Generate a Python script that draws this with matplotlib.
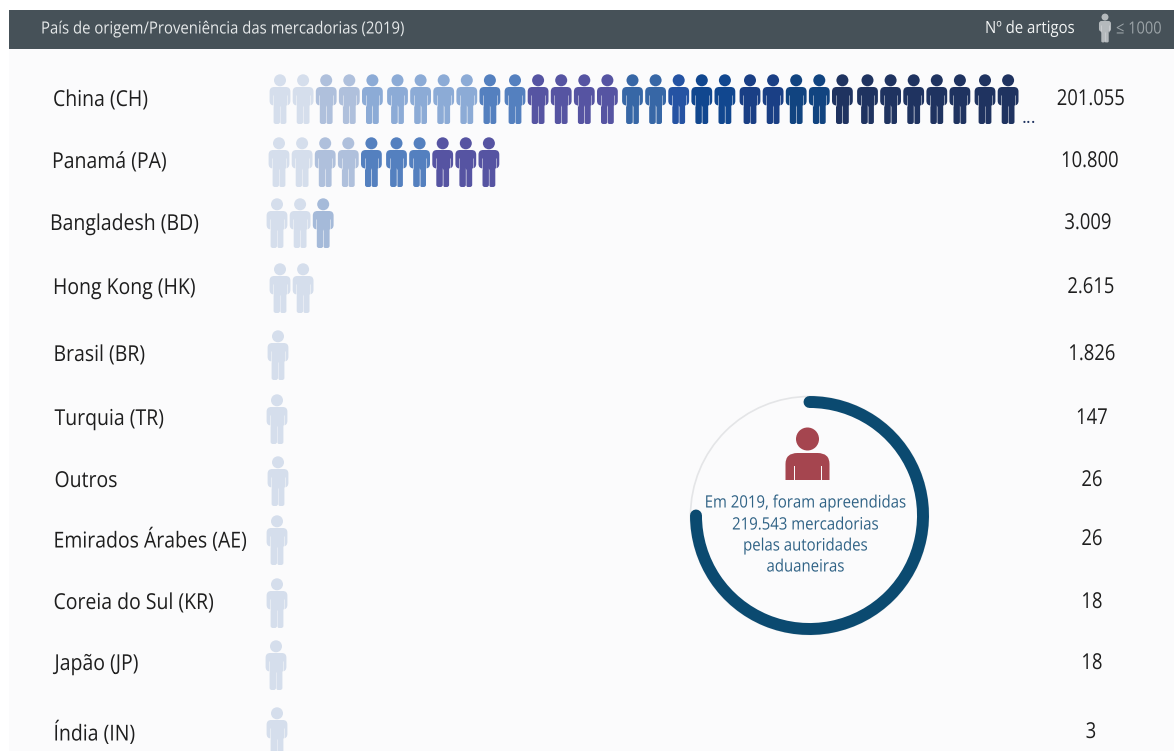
import matplotlib
matplotlib.use("Agg")
import matplotlib.pyplot as plt
from matplotlib.path import Path
from matplotlib.patches import PathPatch, Circle, Rectangle, Arc, FancyBboxPatch
from matplotlib.patheffects import AbstractPathEffect
from matplotlib.transforms import Affine2D

# Seized goods per country of origin, 2019
countries = ["China (CH)", "Panamá (PA)", "Bangladesh (BD)", "Hong Kong (HK)", "Brasil (BR)",
             "Turquia (TR)", "Outros", "Emirados Árabes (AE)", "Coreia do Sul (KR)",
             "Japão (JP)", "Índia (IN)"]
articles = [201055, 10800, 3009, 2615, 1826, 147, 26, 26, 18, 18, 3]
total_seized = 219543
ring_share = 0.75

PER_ICON = 1000
MAX_ICONS = 32

# Row layout in pixels
row_label_x = [53, 52, 50, 53, 53.5, 54.5, 54.5, 53.5, 53.5, 54.5, 53.5]
row_label_y = [99, 161, 223, 287, 354, 418, 480, 539, 602, 663, 732]
row_value_x = [1091, 1090, 1088, 1091, 1092, 1092, 1092, 1092, 1092, 1092, 1091]
row_icon_x = [280, 279, 277, 280, 278, 277, 278, 277, 277, 276, 277]
row_icon_top = [75, 138, 199, 264, 331, 395, 457, 516, 579, 641, 708]

# Icon colours, run-length encoded per row
LIGHT, MID, SOFT, BLUE, PURPLE = "#D5DEEC", "#AFC0DC", "#8CABD6", "#5480BF", "#5654A2"
china_runs = [(LIGHT, 2), (MID, 2), (SOFT, 5), (BLUE, 2), (PURPLE, 4), ("#3767A6", 2),
              ("#2553A3", 1), ("#11478F", 2), ("#1A3F85", 2), ("#114480", 2), ("#1F3360", 8)]
panama_runs = [(LIGHT, 2), (MID, 2), (BLUE, 3), (PURPLE, 3)]
bangla_runs = [(LIGHT, 2), ("#A5BAD9", 1)]
default_runs = [(LIGHT, 32)]
row_runs = [china_runs, panama_runs, bangla_runs] + [default_runs] * 8

FONT = "Open Sans"
BG = "#FBFBFC"


class Squeeze(AbstractPathEffect):
    """Narrows text horizontally around a fixed x, giving a semi-condensed cut."""

    def __init__(self, sx, x0):
        super().__init__()
        self.sx, self.x0 = sx, x0

    def draw_path(self, renderer, gc, tpath, affine, rgbFace=None):
        narrow = Affine2D().translate(-self.x0, 0).scale(self.sx, 1).translate(self.x0, 0)
        renderer.draw_path(gc, tpath, affine + narrow, rgbFace)


def label(ax, x, y, s, size, color, ha="left", sx=0.887, zorder=3):
    ax.text(x, y, s, fontsize=size, family=FONT, color=color, ha=ha, va="center", zorder=zorder,
            path_effects=[Squeeze(sx, x)])


def icon_count(value):
    return min(MAX_ICONS, max(1, value // PER_ICON))


def expand(runs):
    return [c for c, n in runs for _ in range(n)]


def rounded(ax, x0, y0, x1, y1, r, color, zorder):
    ax.add_patch(FancyBboxPatch((x0 + r, y0 + r), x1 - x0 - 2 * r, y1 - y0 - 2 * r,
                                boxstyle=f"round,pad={r},rounding_size={r}",
                                fc=color, ec="none", zorder=zorder))


def draw_person(ax, cx, top, color, s=1.0, zorder=3):
    """Standing figure: head, shoulders with arms, two legs, pale slits along the arms."""
    ax.add_patch(Circle((cx, top + 5.3 * s), 6.0 * s, fc=color, ec="none", zorder=zorder))
    rounded(ax, cx - 10.4 * s, top + 12 * s, cx + 10.4 * s, top + 30.5 * s, 4.6 * s, color, zorder)
    for sign in (-1, 1):
        x0, x1 = sorted((cx, cx + sign * 6.4 * s))
        rounded(ax, x0, top + 22 * s, x1, top + 49 * s, 2.2 * s, color, zorder)
        ax.plot([cx + sign * 6.8 * s] * 2, [top + 19.5 * s, top + 31 * s], color=BG, lw=0.7 * s,
                alpha=0.5, solid_capstyle="butt", zorder=zorder + 0.1)
    ax.plot([cx, cx], [top + 31 * s, top + 49 * s], color=BG, lw=0.7 * s, alpha=0.45,
            solid_capstyle="butt", zorder=zorder + 0.1)


fig = plt.figure(figsize=(11.74, 7.51), dpi=100, facecolor="white")
ax = fig.add_axes([0, 0, 1, 1])
ax.set_xlim(0, 1174)
ax.set_ylim(751, 0)
ax.axis("off")

ax.add_patch(Rectangle((9, 49), 1165, 702, fc=BG, ec="none", zorder=0))
ax.add_patch(Rectangle((9, 10), 1165, 39, fc="#465158", ec="none", zorder=1))
label(ax, 41, 29.5, "País de origem/Proveniência das mercadorias (2019)", 12.1, "#E6E9EA")
label(ax, 985, 29, "Nº de artigos", 12.1, "#F2F4F4")
draw_person(ax, 1105, 14, "#B4B9BC", s=0.58)
label(ax, 1116, 29.5, "≤ 1000", 12.1, "#9BA3A7", sx=0.87)

for i, (name, value) in enumerate(zip(countries, articles)):
    label(ax, row_label_x[i], row_label_y[i] + 1.5, name, 15.8, "#1E1E1E")
    label(ax, row_value_x[i], row_label_y[i] + 0.5, f"{value:,}".replace(",", "."), 15.8, "#1E1E1E",
          ha="center", sx=0.84)
    colors = expand(row_runs[i])
    for k in range(icon_count(value)):
        # every fifth icon starts a new block, two pixels further out
        cx = row_icon_x[i] + k * 23.1 + (k // 5) * 2.0
        draw_person(ax, cx, row_icon_top[i], colors[k])

ax.text(1028.5, 118, "...", fontsize=13, family=FONT, color="#1F3360", ha="center", va="center")

# Ring with the seizure total
ring_cx, ring_cy = 809.5, 515.5
ax.add_patch(Circle((ring_cx, ring_cy), 119, fc="none", ec="#E4E5E7", lw=1.2, zorder=1))
ring_deg = 360 * ring_share
# y axis is inverted, so arc angles run clockwise on screen
arc = Arc((ring_cx, ring_cy), 227, 227, theta1=-90, theta2=-90 + ring_deg, ec="#0B4A70", lw=8.6, zorder=2)
arc.set_capstyle("round")
ax.add_patch(arc)

# Central bust
bx = 807.5
ax.add_patch(Circle((bx, 439), 11.5, fc="#A5454F", ec="none", zorder=3))
M, L, C, Z = Path.MOVETO, Path.LINETO, Path.CURVE3, Path.CLOSEPOLY
bust = Path([(bx - 22, 480), (bx - 22, 464), (bx - 22, 453), (bx - 10, 453), (bx + 10, 453), (bx + 22, 453),
             (bx + 22, 464), (bx + 22, 480), (bx - 22, 480)],
            [M, L, C, C, L, C, C, L, Z])
ax.add_patch(PathPatch(bust, fc="#A5454F", ec="none", zorder=3))
for dx in (-13.5, 13.5):
    ax.add_patch(Rectangle((bx + dx - 0.5, 466), 1, 14, fc=BG, ec="none", zorder=4))

caption = ["Em 2019, foram apreendidas", f"{total_seized:,}".replace(",", ".") + " mercadorias",
           "pelas autoridades", "aduaneiras"]
caption_y = [503.5, 525.5, 546.5, 567.5]
for line, y in zip(caption, caption_y):
    label(ax, 805.5, y, line, 12.25, "#2F6285", ha="center", sx=0.88)

fig.savefig("out.png", dpi=100, facecolor="white")
